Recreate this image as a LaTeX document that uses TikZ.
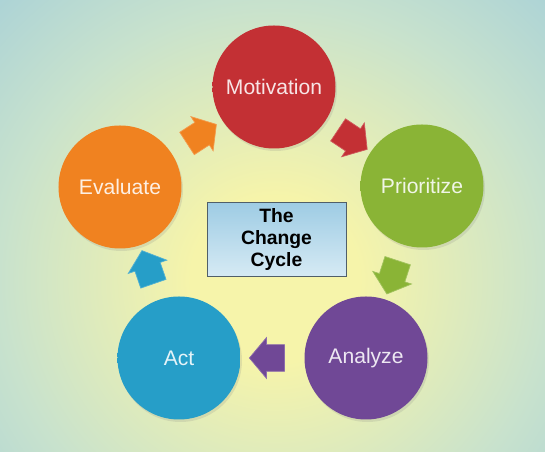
\documentclass[tikz,border=0pt]{standalone}
\usepackage{fontspec}
\setmainfont{Liberation Sans}
\usetikzlibrary{shapes.arrows,calc,shadows}

\definecolor{cred}{RGB}{195,48,52}
\definecolor{cgreen}{RGB}{138,180,54}
\definecolor{cpurple}{RGB}{112,72,150}
\definecolor{cblue}{RGB}{38,158,200}
\definecolor{corange}{RGB}{240,130,32}
\definecolor{bgblue}{RGB}{148,198,222}
\definecolor{bgmid}{RGB}{200,226,205}
\definecolor{bgyellow}{RGB}{246,244,170}
\definecolor{boxtop}{RGB}{158,204,228}
\definecolor{boxbot}{RGB}{214,234,244}
\definecolor{boxline}{RGB}{80,95,105}
\colorlet{ballcol}{cred}

\pgfdeclareradialshading[ballcol]{glassball}{\pgfpoint{0bp}{0bp}}{color(0bp)=(ballcol); color(40bp)=(ballcol); color(46bp)=(ballcol!85!black); color(48.5bp)=(ballcol!78!black); color(50bp)=(ballcol!50!white)}
\pgfdeclareradialshading{backdrop}{\pgfpoint{0bp}{0bp}}{color(0bp)=(bgyellow); color(7bp)=(bgyellow); color(23bp)=(bgmid); color(42bp)=(bgblue)}

\begin{document}
\begin{tikzpicture}[
		circ/.style={circle, minimum size=2.46cm, inner sep=0pt, /utils/exec={\colorlet{ballcol}{#1}}, shading=glassball, text=white, text opacity=0.88, font=\fontsize{12}{14}\selectfont, drop shadow={opacity=0.18, shadow xshift=0.03cm, shadow yshift=-0.05cm}},
		cyclearrow/.style={single arrow, minimum height=0.70cm, inner xsep=0pt, inner ysep=0.26cm, single arrow head extend=0.14cm, single arrow tip angle=100, fill=#1, draw=#1!80!white}]
		% backdrop
		\useasboundingbox (0,0) rectangle (10.9,9.04);
		\begin{scope}
			\clip (0,0) rectangle (10.9,9.04);
			\shade[shading=backdrop] (-0.5,-2.5) rectangle (11.5,9.4);
		\end{scope}
		% the five steps
		\node[circ=cred] (mot) at (5.48,7.30) {Motivation};
		\node[circ=cgreen] (pri) at (8.44,5.32) {Prioritize};
		\node[circ=cpurple] (ana) at (7.32,1.88) {Analyze};
		\node[circ=cblue] (act) at (3.58,1.88) {Act};
		\node[circ=corange] (eva) at (2.40,5.30) {Evaluate};
		% centre box
		\node[draw=boxline, top color=boxtop, bottom color=boxbot, minimum width=2.78cm, minimum height=1.46cm, align=center, font=\bfseries\fontsize{11}{12.5}\selectfont] (title) at (5.53,4.25) {The\\Change\\Cycle};
		% block arrows between the steps
		\foreach \a/\b/\c in {mot/pri/cred, pri/ana/cgreen, ana/act/cpurple, act/eva/cblue, eva/mot/corange}
			\path let \p1=(\a.center), \p2=(\b.center), \n1={atan2(\y2-\y1,\x2-\x1)} in
				node[cyclearrow=\c, rotate=\n1] (arr-\a) at ($(\a)!0.5!(\b)$) {};
	\end{tikzpicture}
\end{document}
